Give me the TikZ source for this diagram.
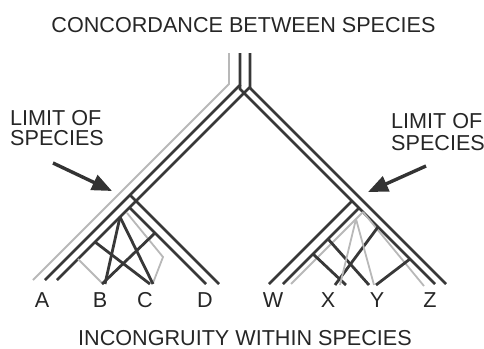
\documentclass[tikz,border=0pt]{standalone}
\usepackage{fontspec}
\setmainfont{Liberation Sans}
\usetikzlibrary{arrows.meta}
\begin{document}
\begin{tikzpicture}[x=1pt,y=-1pt,
  dk/.style={draw=black!78,line width=2.8pt},
  lt/.style={draw=black!28,line width=1.8pt},
  lbl/.style={inner sep=0pt,anchor=base,text=black!85,font=\fontsize{21.6}{21.6}\selectfont},
  lbll/.style={lbl,anchor=base west},
  pointer/.style={draw=black!80,line width=3.4pt,-{Triangle[length=20pt,width=16pt]}}]
\useasboundingbox (0,0) rectangle (484,348);
% texts
\node[lbl] (top) at (243.5,32) {CONCORDANCE BETWEEN SPECIES};
\node[lbl] (bot) at (245,345) {INCONGRUITY WITHIN SPECIES};
\node[lbl] (A) at (42,307) {A};
\node[lbl] (B) at (100,307) {B};
\node[lbl] (C) at (145,307) {C};
\node[lbl] (D) at (205,307) {D};
\node[lbl] (W) at (273,307) {W};
\node[lbl] (X) at (328,307) {X};
\node[lbl] (Y) at (377,307) {Y};
\node[lbl] (Z) at (430,307) {Z};
\node[lbll] (l1) at (10,125) {LIMIT OF};
\node[lbll] (l2) at (10,145) {SPECIES};
\node[lbll] (r1) at (391,128) {LIMIT OF};
\node[lbll] (r2) at (391,150) {SPECIES};
% arrows
\coordinate (la0) at (53,163); \coordinate (la1) at (112,191);
\coordinate (ra0) at (426,166); \coordinate (ra1) at (368,192);
\draw[pointer] (la0) -- (la1);
\draw[pointer] (ra0) -- (ra1);
% main tree
\draw[lt] (229,53) -- (229,84) -- (33,280);
\draw[dk] (240,53) -- (240,85) -- (45,280);
\draw[dk] (250,53) -- (250,87) -- (57,280);
\draw[dk] (240,85) -- (240,89) -- (435,284);
\draw[dk] (250,87) -- (250,88) -- (446,284);
% left clade
\draw[dk] (130,195) -- (219,284);
\draw[dk] (129.5,207.5) -- (206,284);
\draw[lt] (127,213) -- (163,257) -- (153,283);
\draw[lt] (78,259) -- (102,283);
\draw[dk] (95,242) -- (150,284);
\draw[dk] (120,217) -- (105,284);
\draw[dk] (120,217) -- (153,284);
\draw[dk] (155,233) -- (102,284);
% right clade
\draw[dk] (352,201) -- (269,284);
\draw[dk] (359,208) -- (283,284);
\draw[lt] (363,212) -- (291,284);
\draw[lt] (363,212) -- (424,286);
\draw[dk] (328,239) -- (369,285);
\draw[dk] (378,227) -- (335,285);
\draw[dk] (313,254) -- (346,285);
\draw[lt] (356,219) -- (340,285);
\draw[lt] (356,219) -- (374,285);
\draw[dk] (410,259) -- (376,285);
\end{tikzpicture}
\end{document}
